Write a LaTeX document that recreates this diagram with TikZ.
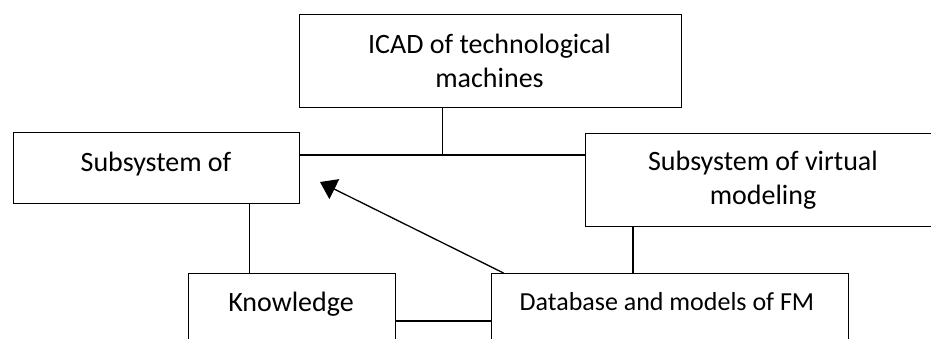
\documentclass[tikz,border=0pt]{standalone}
\usepackage{fontspec}
\setmainfont{Carlito}
\usetikzlibrary{arrows.meta}
\tikzset{
  frame/.style={draw, line width=1.3pt, inner sep=0pt, anchor=north west},
  lbl/.style={inner sep=0pt, align=center, font=\fontsize{28}{34}\selectfont},
  lblsmall/.style={inner sep=0pt, align=center, font=\fontsize{26}{32}\selectfont},
  link/.style={line width=1.3pt},
  pointer/.style={line width=1.3pt, -{Triangle[length=16pt,width=22pt]}}
}
\begin{document}
\begin{tikzpicture}[x=1pt,y=-1pt]
  \useasboundingbox (0,0) rectangle (931,338);
  \clip (0,0) rectangle (931,338);
  \fill[white] (0,0) rectangle (931,338);

  % boxes
  \node[frame, minimum width=382pt, minimum height=93pt] (icad) at (298.5,13.5) {};
  \node[frame, minimum width=286pt, minimum height=71pt] (left) at (13,131.5) {};
  \node[frame, minimum width=380pt, minimum height=93pt] (right) at (585,132.5) {};
  \node[frame, minimum width=207pt, minimum height=100pt] (know) at (188,273) {};
  \node[frame, minimum width=357pt, minimum height=100pt] (db) at (490.5,273) {};

  % box texts
  \node[lbl] (icadtext) at (489.5,61) {ICAD of technological\\machines};
  \node[lbl] (lefttext) at (156,164) {Subsystem of};
  \node[lbl] (righttext) at (763,180) {Subsystem of virtual\\modeling};
  \node[lbl] (knowtext) at (291,304) {Knowledge};
  \node[lblsmall] (dbtext) at (667,302) {Database and models of FM};

  % guide coordinates for the connector lines
  \coordinate (j) at (442.4,155);
  \coordinate (kx) at (249.4,0);
  \coordinate (vx) at (633,0);
  \coordinate (ky) at (0,321);
  \coordinate (tip) at (320,182);

  % connectors
  \draw[link] (j |- icad.south) -- (j);
  \draw[link] (j -| left.east) -- (j -| right.west);
  \draw[link] (kx |- left.south) -- (kx |- know.north);
  \draw[link] (vx |- right.south) -- (vx |- db.north);
  \draw[link] (ky -| know.east) -- (ky -| db.west);
  \draw[pointer] ([xshift=13pt]db.north west) -- (tip);
\end{tikzpicture}
\end{document}
